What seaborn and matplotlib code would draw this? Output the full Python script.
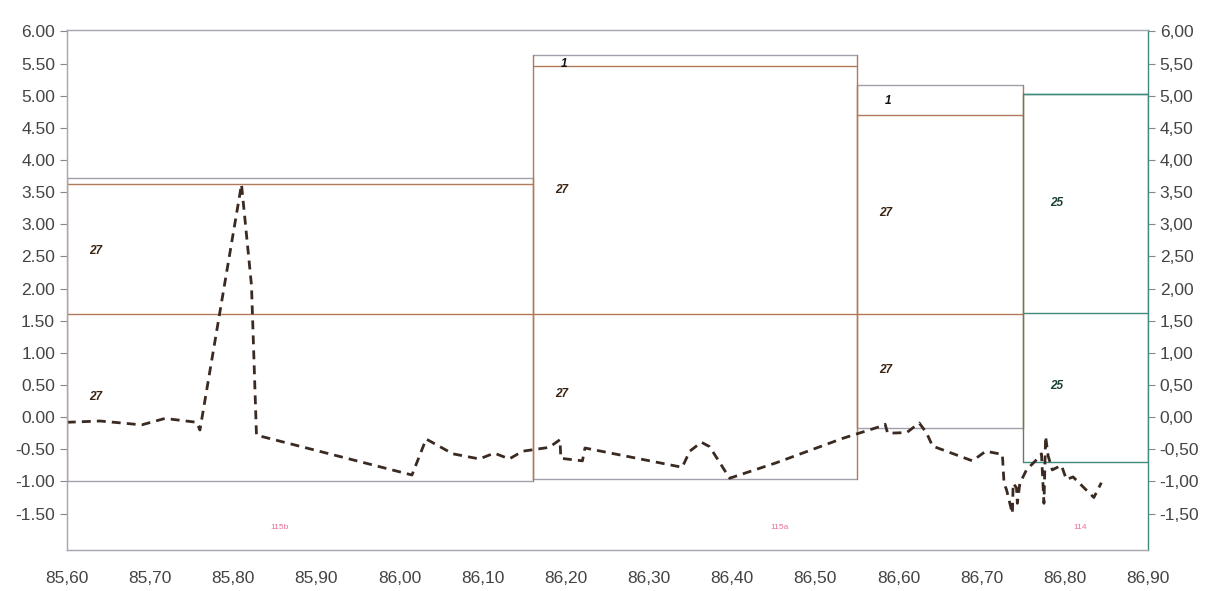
import numpy as np
import pandas as pd
import seaborn as sns
import matplotlib.pyplot as plt
from matplotlib.ticker import FuncFormatter

# profile (dashed line)
prof_x = [85.600, 85.640, 85.690, 85.718, 85.756, 85.760, 85.810, 85.822, 85.828,
          86.015, 86.032, 86.064, 86.096, 86.114, 86.132, 86.148, 86.180, 86.193,
          86.194, 86.220, 86.223, 86.340, 86.349, 86.363, 86.373, 86.397, 86.453,
          86.533, 86.550, 86.577, 86.584, 86.587, 86.610, 86.625, 86.634, 86.641,
          86.689, 86.705, 86.725, 86.727, 86.730, 86.737, 86.738, 86.742, 86.743,
          86.746, 86.754, 86.767, 86.772, 86.775, 86.777, 86.780, 86.785, 86.796,
          86.802, 86.810, 86.835, 86.844]
prof_y = [-0.08, -0.06, -0.12, -0.02, -0.08, -0.20, 3.62, 2.05, -0.28,
          -0.90, -0.34, -0.57, -0.65, -0.56, -0.65, -0.53, -0.47, -0.35,
          -0.64, -0.68, -0.48, -0.78, -0.53, -0.39, -0.46, -0.95, -0.71,
          -0.33, -0.26, -0.15, -0.11, -0.25, -0.24, -0.09, -0.25, -0.45,
          -0.68, -0.53, -0.58, -1.03, -1.13, -1.50, -1.03, -1.10, -1.34,
          -1.03, -0.82, -0.65, -0.57, -1.34, -0.30, -0.60, -0.82, -0.75,
          -0.97, -0.93, -1.25, -1.02]

# layer boxes
seg_left = [85.60, 86.16, 86.55, 86.75]
seg_right = [86.16, 86.55, 86.75, 86.90]
seg_top = [3.72, 5.64, 5.16, 5.02]
seg_base1 = [3.62, 5.46, 4.70, 5.02]
seg_mid = [1.60, 1.60, 1.60, 1.62]
seg_bottom = [-1.00, -0.96, -0.17, -0.70]
seg_color = ["#b07a5a", "#b07a5a", "#b07a5a", "#3f8a7c"]

layer_text = ["27", "27", "1", "27", "27", "1", "27", "27", "25", "25"]
layer_x = [85.635, 85.635, 86.198, 86.195, 86.195, 86.587, 86.585, 86.585, 86.79, 86.79]
layer_y = [2.59, 0.31, 5.50, 3.53, 0.36, 4.91, 3.18, 0.74, 3.33, 0.48]
layer_col = ["#3b2412", "#3b2412", "#111111", "#3b2412", "#3b2412", "#111111",
             "#3b2412", "#3b2412", "#1c4038", "#1c4038"]

site_text = ["115b", "115a", "114"]
site_x = [85.856, 86.457, 86.818]
site_y = [-1.72, -1.72, -1.72]

x_ticks = np.round(np.arange(85.60, 86.91, 0.10), 2)
y_ticks = np.round(np.arange(-1.50, 6.01, 0.50), 2)

sns.set_style("white")
plt.rcParams["font.family"] = ["Liberation Sans", "DejaVu Sans"]
fig = plt.figure(figsize=(12.16, 5.91), dpi=100)
ax = fig.add_axes([0.055, 0.069, 0.889, 0.880])

grey = "#a0a0ac"
for i in range(len(seg_left)):
    x0, x1 = seg_left[i], seg_right[i]
    c = seg_color[i]
    ax.plot([x0, x1], [seg_top[i], seg_top[i]], color=grey if i < 3 else c, lw=1)
    ax.plot([x0, x1], [seg_base1[i], seg_base1[i]], color=c, lw=1)
    ax.plot([x0, x1], [seg_mid[i], seg_mid[i]], color=c, lw=1)
    ax.plot([x0, x1], [seg_bottom[i], seg_bottom[i]], color=grey if i < 3 else c, lw=1)
    ax.plot([x0, x0], [seg_bottom[i], seg_top[i]], color=c if i < 3 else "#6a7a60", lw=1)
    ax.plot([x1, x1], [seg_bottom[i], seg_top[i]], color=c, lw=1)

df = pd.DataFrame({"x": prof_x, "y": prof_y})
sns.lineplot(data=df, x="x", y="y", ax=ax, color="#3a2a22", lw=2,
             sort=False, estimator=None)
ax.lines[-1].set_dashes((3.2, 2.2))

for t, x, y, c in zip(layer_text, layer_x, layer_y, layer_col):
    ax.text(x, y, t, color=c, fontsize=8.5, fontweight="bold", style="italic",
            ha="center", va="center")
for t, x, y in zip(site_text, site_x, site_y):
    ax.text(x, y, t, color="#e8709a", fontsize=6, ha="center", va="center")

ax.set_xlim(85.60, 86.90)
ax.set_ylim(-2.07, 6.02)
ax.set_xticks(x_ticks)
ax.set_xticklabels([f"{v:.2f}".replace(".", ",") for v in x_ticks])
ax.set_yticks(y_ticks)
ax.yaxis.set_major_formatter(FuncFormatter(lambda v, p: f"{v:.2f}"))
ax.set_xlabel("")
ax.set_ylabel("")
ax.tick_params(axis="both", which="major", labelsize=12.5, labelcolor="#444444",
               color="#888888", direction="out")
ax.tick_params(axis="x", length=9, pad=6)
ax.tick_params(axis="y", length=5, left=True)

ax2 = ax.twinx()
ax2.set_ylim(ax.get_ylim())
ax2.set_yticks(y_ticks)
ax2.yaxis.set_major_formatter(FuncFormatter(lambda v, p: f"{v:.2f}".replace(".", ",")))
ax2.tick_params(axis="y", labelsize=12.5, labelcolor="#444444", color="#888888",
                length=5, direction="out", right=True)

for a in (ax, ax2):
    for s in a.spines.values():
        s.set_color("#a8a8b0")
        s.set_linewidth(0.9)
ax2.spines["right"].set_color("#3f8a7c")

fig.savefig("out.png", dpi=100)
